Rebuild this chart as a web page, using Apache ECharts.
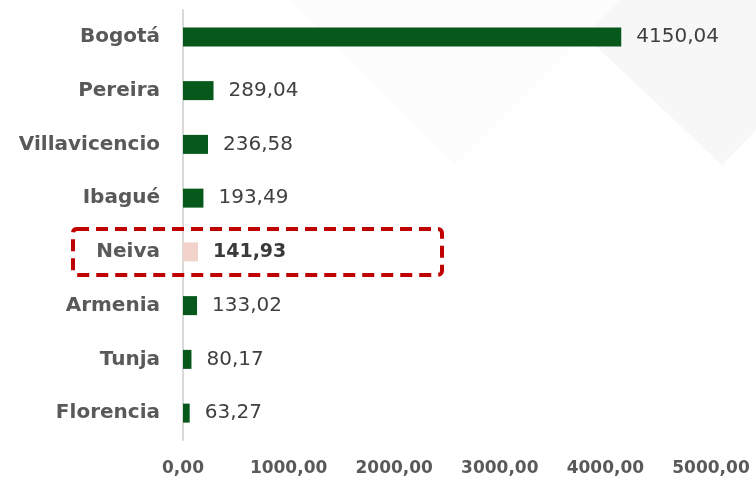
<!DOCTYPE html>
<html>
<head>
<meta charset="utf-8">
<script src="https://cdn.jsdelivr.net/npm/echarts@6/dist/echarts.min.js"></script>
<style>
html,body{margin:0;padding:0;background:#ffffff;}
#main{width:756px;height:481px;}
</style>
</head>
<body>
<div id="main"></div>
<script>
var categories = ['Bogotá', 'Pereira', 'Villavicencio', 'Ibagué', 'Neiva', 'Armenia', 'Tunja', 'Florencia'];
var values = [4150.04, 289.04, 236.58, 193.49, 141.93, 133.02, 80.17, 63.27];
var highlightCity = 'Neiva';
var axisTicks = [0, 1000, 2000, 3000, 4000, 5000];

function fmt(v) { return v.toFixed(2).replace('.', ','); }

var FONT = '"DejaVu Sans", sans-serif';
var cats = categories.slice().reverse();
var vals = values.slice().reverse();

var data = vals.map(function (v, i) {
  var isH = cats[i] === highlightCity;
  return {
    value: v,
    itemStyle: { color: isH ? '#f2d3cb' : '#06591b' },
    label: isH ? { fontWeight: 'bold', color: '#3a3a3a', fontSize: 19 } : undefined
  };
});

var chart = echarts.init(document.getElementById('main'), null, { renderer: 'canvas' });
chart.setOption({
  backgroundColor: '#ffffff',
  animation: false,
  grid: { left: 183, right: 45, top: 10, bottom: 41, containLabel: false },
  xAxis: {
    type: 'value',
    min: axisTicks[0],
    max: axisTicks[axisTicks.length - 1],
    interval: axisTicks[1] - axisTicks[0],
    axisLine: { show: false },
    axisTick: { show: false },
    splitLine: { show: false },
    axisLabel: {
      formatter: function (v) { return fmt(v); },
      color: '#595959', fontSize: 17, fontWeight: 'bold', fontFamily: FONT, margin: 20
    }
  },
  yAxis: {
    type: 'category',
    data: cats,
    axisLine: { show: true, lineStyle: { color: '#d9d9d9', width: 2 } },
    axisTick: { show: false },
    axisLabel: {
      color: '#595959', fontSize: 20, fontWeight: 'bold', fontFamily: FONT, margin: 23
    }
  },
  series: [{
    type: 'bar',
    data: data,
    barWidth: 19,
    label: {
      show: true, position: 'right', distance: 15,
      formatter: function (p) { return fmt(p.value); },
      color: '#404040', fontSize: 20, fontFamily: FONT
    }
  }]
});

// annotation box around highlighted category
var yc = chart.convertToPixel({ yAxisIndex: 0 }, highlightCity);
var x0 = chart.convertToPixel({ xAxisIndex: 0 }, 0);
chart.setOption({
  graphic: [
    { type: 'polygon', z: -10, silent: true,
      shape: { points: [[547, 0], [756, 0], [756, 130], [722, 165]] },
      style: { fill: '#f7f7f7' } },
    { type: 'polygon', z: -10, silent: true,
      shape: { points: [[290, 0], [620, 0], [455, 165]] },
      style: { fill: '#fcfcfc' } },
    { type: 'rect', z: 100, silent: true,
      shape: { x: x0 - 110, y: yc - 23, width: 369, height: 46, r: 4 },
      style: { fill: 'none', stroke: '#c00000', lineWidth: 4, lineDash: [12, 7] } }
  ]
});
</script>
</body>
</html>
